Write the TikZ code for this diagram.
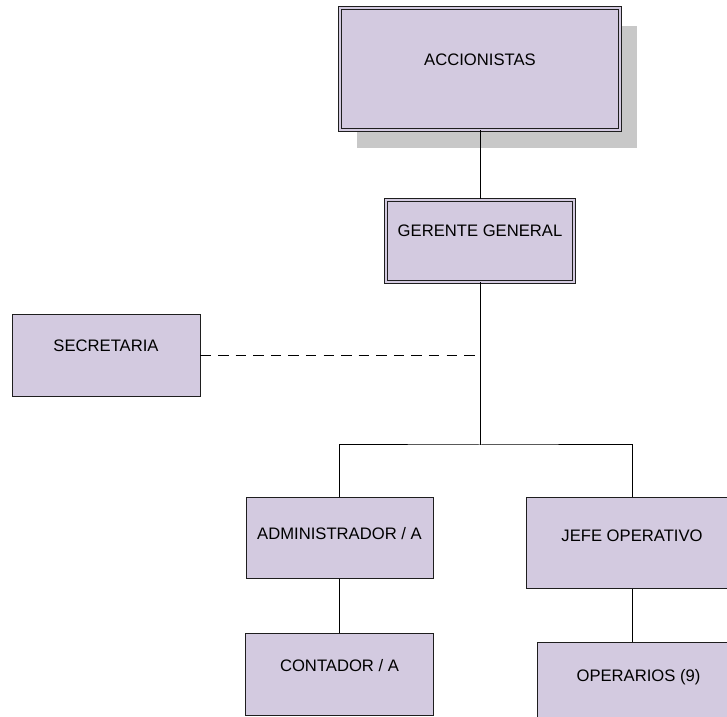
\documentclass[tikz,border=0pt]{standalone}
\usepackage{fontspec}
\setmainfont{Liberation Sans}
\definecolor{boxfill}{RGB}{211, 202, 224}
\definecolor{shadowgray}{RGB}{200, 200, 200}
\definecolor{edgegray}{RGB}{30, 30, 30}
\usetikzlibrary{positioning, shadows}

\begin{document}
\begin{tikzpicture}[every node/.style={font=\fontsize{14.2}{17}\selectfont},
  unit/.style={draw=edgegray, line width=0.85pt, fill=boxfill, minimum width=5.64cm, minimum height=2.46cm, text depth=0.6cm},
  head/.style={unit, double=boxfill, double distance=1.7pt},
  link/.style={line width=0.85pt, black}]
\useasboundingbox (0,0) rectangle (21.81,21.51);
\clip (0,0) rectangle (21.81,21.51);
% Top level
\node[head, minimum width=8.4cm, minimum height=3.66cm, text depth=0.54cm,
  drop shadow={shadow xshift=0.52cm, shadow yshift=-0.54cm, fill=shadowgray, opacity=1}] (acc) at (14.4,19.44) {ACCIONISTAS};
\node[head] (ger) at (14.4,14.28) {GERENTE GENERAL};
\node[unit] (sec) at (3.18,10.83) {SECRETARIA};
% Branches
\node[unit, minimum width=5.61cm, minimum height=2.43cm, text depth=0.3cm] (adm) at (10.185,5.355) {ADMINISTRADOR / A};
\node[unit] (con) at (10.185,1.26) {CONTADOR / A};
\node[unit, minimum width=6.36cm, minimum height=2.73cm, text depth=0.48cm] (jef) at (18.96,5.205) {JEFE OPERATIVO};
\node[unit, minimum width=6.09cm, text depth=0.54cm] (ope) at (19.155,0.99) {OPERARIOS (9)};
\coordinate (bus) at (14.4,8.16);
% Connectors
\draw[link] (acc) -- (ger);
\draw[link] (ger) -- (bus);
\draw[link, dash pattern=on 9pt off 6pt] (sec.east) -- (sec.east -| bus);
\draw[link] (adm.north) |- (bus) -| (jef.north);
\draw[link] (adm) -- (con);
\draw[link] (jef.south) -- (jef.south |- ope.north);
\end{tikzpicture}
\end{document}
